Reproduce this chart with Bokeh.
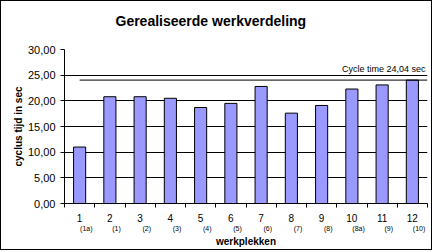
from bokeh.plotting import figure
from bokeh.models import Range1d, FixedTicker, LinearAxis
from bokeh.core.properties import value
from bokeh.embed import file_html
from bokeh.resources import INLINE

# ---- data ----
stations = ["1", "2", "3", "4", "5", "6", "7", "8", "9", "10", "11", "12"]
sub_labels = ["(1a)", "(1)", "(2)", "(3)", "(4)", "(5)", "(6)", "(7)", "(8)", "(8a)", "(9)", "(10)"]
cycle_times = [11.0, 20.8, 20.8, 20.5, 18.7, 19.5, 22.8, 17.6, 19.1, 22.3, 23.1, 24.04]
cycle_time_limit = 24.04
y_ticks = [0, 5, 10, 15, 20, 25, 30]
y_tick_labels = ["0,00", "5,00", "10,00", "15,00", "20,00", "25,00", "30,00"]
title_text = "Gerealiseerde werkverdeling"

FONT = "Liberation Sans"
n = len(stations)
centers = [i + 0.5 for i in range(n)]
sub_pos = [i + 0.72 for i in range(n)]
bounds = list(range(n + 1))

W, H = 432, 250
p = figure(width=W, height=H, x_range=Range1d(0, n), y_range=Range1d(0, 30),
           output_backend="svg", toolbar_location=None,
           min_border_left=63, min_border_right=6, min_border_top=48, min_border_bottom=48,
           background_fill_color="white", border_fill_color="white",
           styles={"border": "1px solid black", "border-radius": "0px"})
p.outline_line_color = None

# title (an extra blank line lifts the visible line towards the top)
p.title.text = title_text + "\n "
p.title.align = "left"
p.title.offset = 51
p.title.standoff = 10
p.title.text_font = FONT
p.title.text_font_size = "14px"
p.title.text_font_style = "bold"
p.title.text_color = "black"

# grid
p.xgrid.visible = False
p.ygrid.ticker = FixedTicker(ticks=y_ticks)
p.ygrid.grid_line_color = "black"
p.ygrid.grid_line_width = 1

# y axis
ya = p.yaxis[0]
ya.ticker = FixedTicker(ticks=y_ticks, minor_ticks=[])
ya.major_label_overrides = {t: s for t, s in zip(y_ticks, y_tick_labels)}
ya.axis_line_color = "black"
ya.major_tick_line_color = "black"
ya.major_tick_out = 4
ya.major_tick_in = 0
ya.minor_tick_line_color = None
ya.major_label_text_font = FONT
ya.major_label_text_font_size = "11px"
ya.major_label_text_color = "black"
ya.major_label_standoff = 5
ya.axis_label = "cyclus tijd in sec"
ya.axis_label_text_font = FONT
ya.axis_label_text_font_size = "10px"
ya.axis_label_text_font_style = "bold"
ya.axis_label_text_color = "black"
ya.axis_label_standoff = 1

# x axis (station numbers)
xa = p.xaxis[0]
xa.ticker = FixedTicker(ticks=centers, minor_ticks=bounds)
xa.major_label_overrides = {c: s for c, s in zip(centers, stations)}
xa.axis_line_color = "black"
xa.major_tick_line_color = None
xa.minor_tick_line_color = "black"
xa.minor_tick_out = 4
xa.minor_tick_in = 0
xa.major_label_text_font = FONT
xa.major_label_text_font_size = "10px"
xa.major_label_text_color = "black"
xa.major_label_standoff = 4

# second x axis (sub labels)
xa2 = LinearAxis(ticker=FixedTicker(ticks=sub_pos, minor_ticks=[]),
                 major_label_overrides={c: s for c, s in zip(sub_pos, sub_labels)},
                 axis_line_color=None, major_tick_line_color=None, minor_tick_line_color=None,
                 major_tick_out=0, major_tick_in=0, major_label_standoff=0,
                 major_label_text_font=FONT, major_label_text_font_size="7px",
                 major_label_text_color="black",
                 axis_label="werkplekken", axis_label_text_font=FONT,
                 axis_label_text_font_size="10px", axis_label_text_font_style="bold",
                 axis_label_text_color="black", axis_label_standoff=1)
p.add_layout(xa2, "below")

# bars
p.vbar(x=centers, top=cycle_times, width=0.4, bottom=0,
       fill_color="#9999FF", line_color="black", line_width=1)

# cycle time line
p.segment(x0=[centers[0]], y0=[cycle_time_limit], x1=[n], y1=[cycle_time_limit],
          line_color="black", line_width=1)
limit_text = "Cycle time " + f"{cycle_time_limit:.2f}".replace(".", ",") + " sec"
p.text(x=[n], y=[cycle_time_limit], text=[limit_text], x_offset=-2, y_offset=-6,
       text_align="right", text_baseline="bottom", text_font=value(FONT),
       text_font_size="9px", text_color="black")

open("out.html", "w").write(file_html(p, INLINE))
